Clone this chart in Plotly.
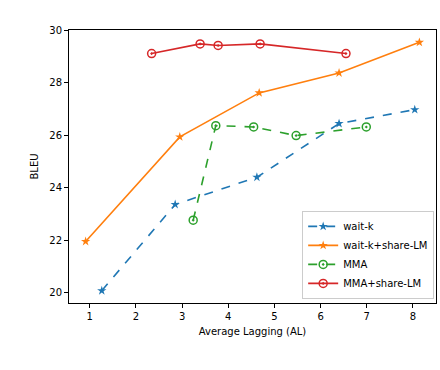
import plotly.graph_objects as go

# Average Lagging (AL) vs BLEU
waitk_al = [1.26, 2.85, 4.62, 6.40, 8.04]
waitk_bleu = [20.07, 23.36, 24.40, 26.45, 26.98]

waitk_lm_al = [0.91, 2.95, 4.67, 6.40, 8.14]
waitk_lm_bleu = [21.95, 25.94, 27.62, 28.38, 29.55]

mma_al = [3.24, 3.73, 4.55, 5.47, 6.99]
mma_bleu = [22.76, 26.37, 26.32, 25.99, 26.32]

mma_lm_al = [2.34, 3.39, 3.78, 4.69, 6.55]
mma_lm_bleu = [29.12, 29.49, 29.43, 29.49, 29.12]

x_ticks = [1, 2, 3, 4, 5, 6, 7, 8]
y_ticks = [20, 22, 24, 26, 28, 30]

series = [
	('wait-k', waitk_al, waitk_bleu, '#1f77b4', 'dash', 'star'),
	('wait-k+share-LM', waitk_lm_al, waitk_lm_bleu, '#ff7f0e', 'solid', 'star'),
	('MMA', mma_al, mma_bleu, '#2ca02c', 'dash', 'circle-open-dot'),
	('MMA+share-LM', mma_lm_al, mma_lm_bleu, '#d62728', 'solid', 'circle-open-dot'),
]

fig = go.Figure()
for name, x, y, color, dash, symbol in series:
	star = symbol == 'star'
	fig.add_trace(go.Scatter(
		x=x, y=y, name=name, mode='lines+markers',
		line=dict(color=color, width=1.6, dash=dash),
		marker=dict(symbol=symbol, size=7 if star else 8, color=color,
			line=dict(width=0 if star else 1.5, color=color))
	))

axis_style = dict(
	showline=True, linecolor='black', linewidth=1, mirror=True,
	ticks='outside', ticklen=4, tickcolor='black', showgrid=False, zeroline=False,
	tickfont=dict(size=10, color='black')
)

fig.update_layout(
	width=440, height=370,
	margin=dict(l=69, r=4, t=30, b=67),
	paper_bgcolor='white', plot_bgcolor='white',
	font=dict(family='DejaVu Sans', size=10, color='black'),
	showlegend=True,
	legend=dict(
		x=0.995, y=0.015, xanchor='right', yanchor='bottom',
		bgcolor='white', bordercolor='#cccccc', borderwidth=1,
		font=dict(size=10), tracegroupgap=0, itemwidth=30
	),
	xaxis=dict(axis_style, range=[0.55, 8.5], tickvals=x_ticks,
		title=dict(text='Average Lagging (AL)', standoff=6, font=dict(size=10))),
	yaxis=dict(axis_style, range=[19.6, 30.02], tickvals=y_ticks,
		title=dict(text='BLEU', standoff=8, font=dict(size=10))),
)

# page has a default body margin, drop it so the figure sits at 0,0
fig.write_html('out.html', config={'displayModeBar': False},
	post_script="document.body.style.margin='0';")
